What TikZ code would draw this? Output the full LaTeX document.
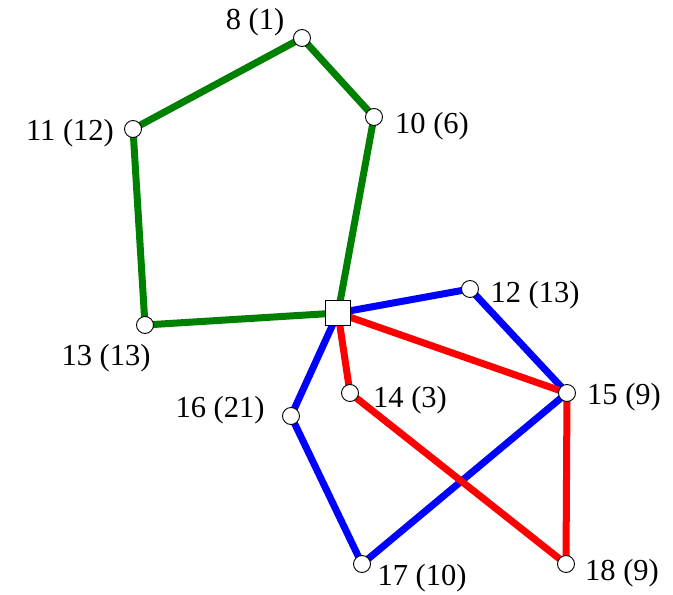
\documentclass[tikz,border=0pt]{standalone}
\usepackage{fontspec}
\setmainfont{Liberation Serif}
\begin{document}
\begin{tikzpicture}[x=1pt,y=-1pt,
  cust/.style={circle,draw=black,fill=white,line width=0.9pt,minimum size=17pt,inner sep=0pt},
  depot/.style={rectangle,draw=black,fill=white,line width=0.9pt,minimum size=25pt,inner sep=0pt},
  lbl/.style={font=\fontsize{30.5}{30.5}\selectfont,inner sep=0pt,anchor=center},
  route/.style={line width=7pt}]
\useasboundingbox (0,0) rectangle (673,595);
\definecolor{rgreen}{RGB}{0,128,0}
\definecolor{rblue}{RGB}{0,0,255}
\definecolor{rred}{RGB}{255,0,0}
\coordinate (pd) at (338,313);
\coordinate (p8) at (302,38);
\coordinate (p10) at (374,117);
\coordinate (p11) at (133,129);
\coordinate (p13) at (145,325);
\coordinate (p12) at (470,289);
\coordinate (p15) at (567,393);
\coordinate (p14) at (350,393);
\coordinate (p16) at (291,416);
\coordinate (p17) at (362,564);
\coordinate (p18) at (566,564);
% routes
\draw[route,rgreen] (pd) -- (p13) -- (p11) -- (p8) -- (p10) -- cycle;
\draw[route,rblue] (pd) -- (p12) -- (p15) -- (p17) -- (p16) -- cycle;
\draw[route,rred] (pd) -- (p15) -- (p18) -- (p14) -- cycle;
% nodes
\node[depot] (d) at (pd) {};
\node[cust] (n8) at (p8) {};
\node[cust] (n10) at (p10) {};
\node[cust] (n11) at (p11) {};
\node[cust] (n13) at (p13) {};
\node[cust] (n12) at (p12) {};
\node[cust] (n15) at (p15) {};
\node[cust] (n14) at (p14) {};
\node[cust] (n16) at (p16) {};
\node[cust] (n17) at (p17) {};
\node[cust] (n18) at (p18) {};
% labels
\node[lbl] (l8) at (255,22) {8 (1)};
\node[lbl] (l10) at (432,126) {10 (6)};
\node[lbl] (l11) at (70,133) {11 (12)};
\node[lbl] (l13) at (106,358) {13 (13)};
\node[lbl] (l12) at (535,295) {12 (13)};
\node[lbl] (l15) at (624,397) {15 (9)};
\node[lbl] (l14) at (410,400) {14 (3)};
\node[lbl] (l16) at (220,410) {16 (21)};
\node[lbl] (l17) at (422,578) {17 (10)};
\node[lbl] (l18) at (622,573) {18 (9)};
\end{tikzpicture}
\end{document}
